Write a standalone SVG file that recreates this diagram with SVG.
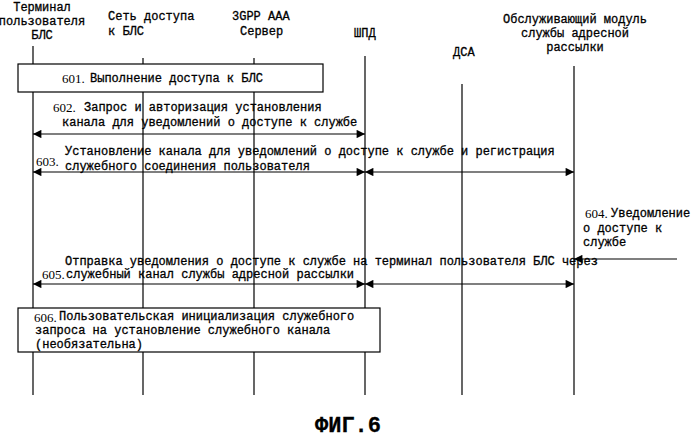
<svg xmlns="http://www.w3.org/2000/svg" width="699" height="440" viewBox="0 0 699 440">
<style>
text{font-family:"Liberation Mono","DejaVu Sans Mono",monospace;font-size:12px;fill:#000;stroke:#000;stroke-width:0.3}
.n{font-family:"Liberation Serif",serif;font-size:13px;stroke:none}
.l{stroke:#000;stroke-width:1.2;fill:none}
.b{stroke:#000;stroke-width:1.2;fill:#fff}
</style>
<defs><marker id="a" viewBox="0 0 10 10" refX="10" refY="5" markerWidth="9" markerHeight="7" orient="auto-start-reverse"><path d="M0,0L10,5L0,10z"/></marker></defs>
<rect width="699" height="440" fill="#fff"/>
<g id="lifelines">
<g id="n1"><text x="42" y="11" text-anchor="middle">Терминал</text><text x="42" y="25" text-anchor="middle">пользователя</text><text x="42" y="39" text-anchor="middle">БЛС</text><line class="l" x1="33" y1="46" x2="33" y2="395"/></g>
<g id="n2"><text x="108" y="20">Сеть доступа</text><text x="108" y="35">к БЛС</text><line class="l" x1="143" y1="58" x2="143" y2="395"/></g>
<g id="n3"><text x="232" y="20">3GPP AAA</text><text x="240" y="35">Сервер</text><line class="l" x1="254" y1="58" x2="254" y2="395"/></g>
<g id="n4"><text x="354" y="37">ШПД</text><line class="l" x1="365" y1="56" x2="365" y2="395"/></g>
<g id="n5"><text x="453" y="56">ДСА</text><line class="l" x1="462" y1="84" x2="462" y2="395"/></g>
<g id="n6"><text x="575" y="23" text-anchor="middle">Обслуживающий модуль</text><text x="575" y="37" text-anchor="middle">службы адресной</text><text x="575" y="51" text-anchor="middle">рассылки</text><line class="l" x1="574" y1="66" x2="574" y2="395"/></g>
</g>
<g id="box601"><rect class="b" x="18" y="64" width="305" height="28"/><text class="n" x="62" y="83">601.</text><text x="90" y="82">Выполнение доступа к БЛС</text></g>
<g id="connectors">
<line class="l" x1="33" y1="134" x2="365" y2="134" marker-start="url(#a)" marker-end="url(#a)"/>
<line class="l" x1="33" y1="172" x2="365" y2="172" marker-start="url(#a)" marker-end="url(#a)"/>
<line class="l" x1="365" y1="172" x2="574" y2="172" marker-start="url(#a)" marker-end="url(#a)"/>
<line class="l" x1="677" y1="259" x2="574" y2="259" marker-end="url(#a)"/>
<line class="l" x1="33" y1="284" x2="365" y2="284" marker-start="url(#a)" marker-end="url(#a)"/>
<line class="l" x1="365" y1="284" x2="574" y2="284" marker-start="url(#a)" marker-end="url(#a)"/>
</g>
<g id="labels">
<text class="n" x="53" y="112">602.</text><text x="84" y="111">Запрос и авторизация установления</text>
<text x="62" y="126">канала для уведомлений о доступе к службе</text>
<text class="n" x="36" y="166">603.</text><text x="65" y="155">Установление канала для уведомлений о доступе к службе и регистрация</text>
<text x="65" y="170">служебного соединения пользователя</text>
<text class="n" x="585" y="218">604.</text><text x="611" y="217">Уведомление</text>
<text x="583" y="232">о доступе к</text>
<text x="583" y="246">службе</text>
<text x="65" y="265">Отправка уведомления о доступе к службе на терминал пользователя БЛС через</text>
<text class="n" x="42" y="279">605.</text><text x="66" y="278">служебный канал службы адресной рассылки</text>
</g>
<g id="box606"><rect class="b" x="18" y="308" width="362" height="44"/><text class="n" x="34" y="322">606.</text><text x="59" y="320">Пользовательская инициализация служебного</text><text x="35" y="334">запроса на установление служебного канала</text><text x="35" y="348">(необязательна)</text></g>
<text x="348" y="432" text-anchor="middle" style="font-size:22px;font-weight:bold">ФИГ.6</text>
</svg>
